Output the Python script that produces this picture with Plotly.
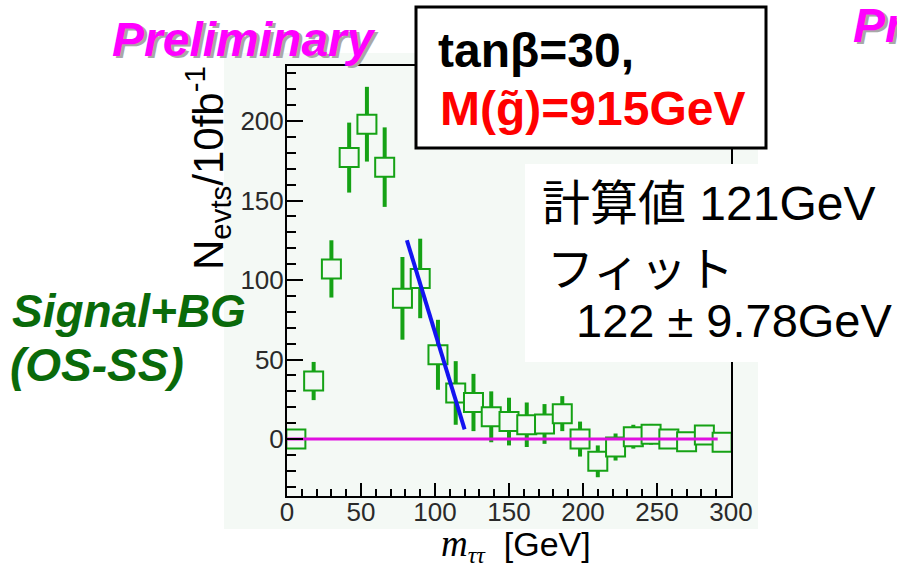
import plotly.graph_objects as go

# Binned m_tautau distribution (OS-SS), 12 GeV bins
mass_gev = [6, 18, 30, 42, 54, 66, 78, 90, 102, 114, 126, 138, 150,
            162, 174, 186, 198, 210, 222, 234, 246, 258, 270, 282, 294]
n_events = [0, 36.5, 107, 177, 198, 171, 88.5, 101, 53, 29, 23, 14, 11,
            9, 9.5, 16, 0, -14, -5, 1.5, 3, 0, -1.7, 2.5, -2]
n_errors = [5, 12, 18, 22, 23.5, 25, 26, 25, 22, 20, 18, 16, 15,
            14, 12.5, 11, 11, 10, 8.5, 7.5, 6.5, 6, 6, 5, 5]

# Linear edge fit: y = slope * (endpoint - x)
fit_endpoint = 122.0
fit_slope = 3.05
fit_x = [81, 120]
fit_y = [fit_slope * (fit_endpoint - x) for x in fit_x]

# Zero reference line
baseline_x = [0, 291]
baseline_y = [0, 0]

x_ticks = [0, 50, 100, 150, 200, 250, 300]
y_ticks = [0, 50, 100, 150, 200]

W, H = 897, 566
L, R, T, B = 287, 731, 66, 496
BG = "#f4f9f5"
GREEN = "#15a215"


def px(x):
    return (x - L) / (R - L)


def py(y):
    return (B - y) / (B - T)


fig = go.Figure()

fig.add_trace(go.Scatter(
    x=mass_gev, y=n_events,
    mode="markers",
    marker=dict(symbol="square", size=19, color=BG,
                line=dict(color=GREEN, width=2)),
    error_y=dict(type="data", array=n_errors, visible=True,
                 color=GREEN, thickness=4, width=0),
    hoverinfo="skip", showlegend=False,
))

fig.add_trace(go.Scatter(
    x=fit_x, y=fit_y, mode="lines",
    line=dict(color="#1414f0", width=4),
    hoverinfo="skip", showlegend=False,
))

fig.add_trace(go.Scatter(
    x=baseline_x, y=baseline_y, mode="lines",
    line=dict(color="#e010e0", width=3),
    hoverinfo="skip", showlegend=False,
))

axis_common = dict(
    showline=True, linecolor="black", linewidth=2, mirror=True,
    showgrid=False, zeroline=False,
    ticks="inside", tickwidth=2, tickcolor="black",
    tickfont=dict(family="Liberation Sans, Arial", size=26, color="#2a2a2a"),
)

fig.update_xaxes(range=[0, 300], tickvals=x_ticks, ticklen=13,
                 ticklabelstandoff=-8,
                 minor=dict(tick0=0, dtick=10, ticks="inside", ticklen=7,
                            tickwidth=2, tickcolor="black"),
                 **axis_common)
fig.update_yaxes(range=[-35.8, 234.6], tickvals=y_ticks, ticklen=16,
                 ticklabelstandoff=-4,
                 minor=dict(tick0=0, dtick=10, ticks="inside", ticklen=9,
                            tickwidth=2, tickcolor="black"),
                 **axis_common)

shapes = [
    # chart panel background
    dict(type="rect", xref="paper", yref="paper", layer="below",
         x0=px(224), x1=px(758), y0=py(529), y1=py(53),
         fillcolor=BG, line=dict(width=0)),
    # parameter box
    dict(type="rect", xref="paper", yref="paper", layer="above",
         x0=px(416), x1=px(766), y0=py(148), y1=py(7),
         fillcolor="white", line=dict(color="black", width=3)),
    # result panel
    dict(type="rect", xref="paper", yref="paper", layer="above",
         x0=px(525), x1=px(905), y0=py(362), y1=py(164),
         fillcolor="white", line=dict(width=0)),
]

SANS = "Liberation Sans, Arial, Noto Sans CJK JP"


def text(x, y, s, size, color="black", xanchor="left", angle=0, **kw):
    return dict(xref="paper", yref="paper", x=px(x), y=py(y), text=s,
                showarrow=False, xanchor=xanchor, yanchor="middle",
                textangle=angle,
                font=dict(family=SANS, size=size, color=color), **kw)


annotations = [
    text(110 + 3, 39 + 3, "<b><i>Preliminary</i></b>", 48, "#a8a8a8"),
    text(110, 39, "<b><i>Preliminary</i></b>", 48, "#ff00ff"),
    text(851 + 3, 25 + 3, "<b><i>Preliminary</i></b>", 48, "#a8a8a8"),
    text(851, 25, "<b><i>Preliminary</i></b>", 48, "#ff00ff"),
    text(436, 51, "<b>tanβ=30,</b>", 48, "black"),
    text(438, 108, "<b>M(g\u0303)=915GeV</b>", 48, "#ff0000"),
    text(540, 203, "計算値 121GeV", 48, "black"),
    text(545, 269, "フィット", 47, "black"),
    text(574, 320, "122 ± 9.78GeV", 47, "black"),
    text(10, 311, "<b><i>Signal+BG</i></b>", 46, "#0a6a0a"),
    text(8, 365, "<b><i>(OS-SS)</i></b>", 46, "#0a6a0a"),
    text(207, 168, "N<sub>evts</sub>/10fb<sup>-1</sup>", 42, "black",
         xanchor="center", angle=-90),
    text(516, 545,
         '<span style="font-family:Liberation Serif;font-size:37px"><i>m</i></span>'
         '<sub><span style="font-family:Liberation Serif;font-size:24px">'
         '<i>ττ</i></span></sub>  [GeV]', 34, "black",
         xanchor="center"),
]

fig.update_layout(
    width=W, height=H,
    margin=dict(l=L, r=W - R, t=T, b=H - B, pad=0),
    paper_bgcolor="white", plot_bgcolor="rgba(0,0,0,0)",
    shapes=shapes, annotations=annotations,
    showlegend=False,
)

fig.write_html("out.html", config={"displayModeBar": False})
